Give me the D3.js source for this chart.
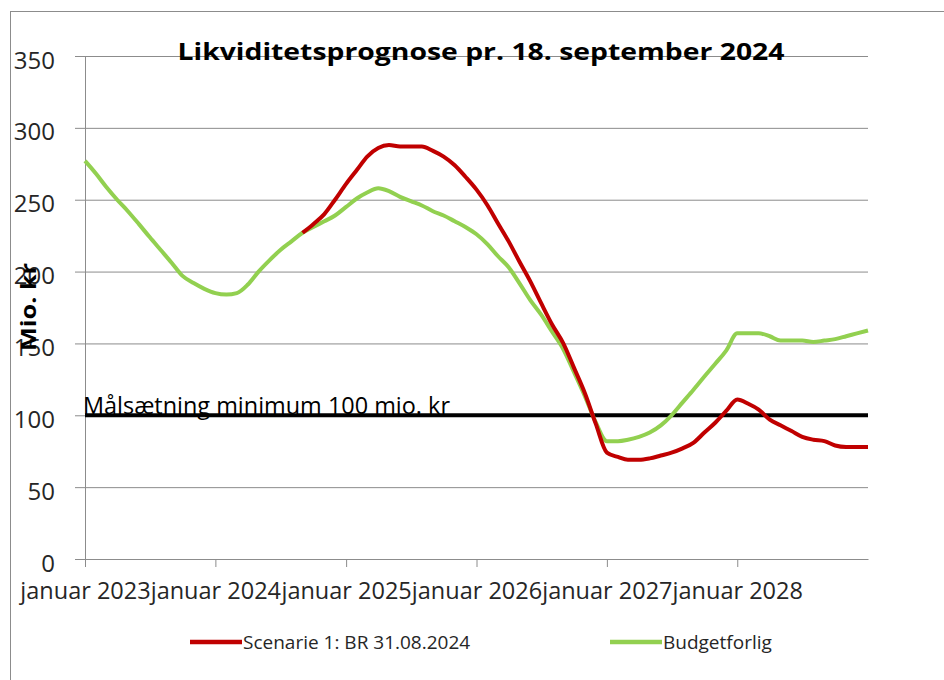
<!DOCTYPE html>
<html>
<head>
<meta charset="utf-8">
<script src="https://cdn.jsdelivr.net/npm/d3@7"></script>
<style>
  body { margin: 0; background: white; }
  text { font-family: "Open Sans", "Noto Sans", sans-serif; }
</style>
</head>
<body>
<div id="container"></div>
<script>
let w = 944;
let h = 680;

// monthly values, Jan 2023 .. Jan 2029 (mio. kr)
let startMonth = "2023-01";
let budgetforlig = [
  277, 268, 259, 250, 242, 233, 224, 215, 206, 197, 192, 188,
  185, 184, 185, 191, 200, 208, 215, 221, 227, 231, 235, 239,
  245, 251, 255, 258, 256, 252, 249, 246, 242, 239, 235, 231,
  226, 219, 211, 203, 192, 180, 170, 158, 146, 130, 113, 95,
  82, 82, 83, 85, 88, 93, 100, 109, 118, 127, 136, 145,
  157, 157, 157, 155, 152, 152, 152, 151, 152, 153, 155, 157, 159
];
let scenarie1 = [
  null, null, null, null, null, null, null, null, null, null, null, null,
  null, null, null, null, null, null, null, null, 227, 233, 240, 250,
  261, 271, 280, 286, 288, 287, 287, 287, 284, 280, 274, 266,
  257, 246, 234, 221, 207, 193, 178, 163, 150, 133, 115, 94,
  74, 71, 69, 69, 70, 72, 74, 77, 81, 88, 95, 103,
  111, 108, 104, 97, 93, 89, 85, 83, 82, 79, 78, 78, 78
];
let yTicks = [0, 50, 100, 150, 200, 250, 300, 350];
let target = 100;
let seriesNames = ["Scenarie 1: BR 31.08.2024", "Budgetforlig"];
let seriesColors = ["#c00000", "#92d050"];

let parseMonth = d3.timeParse("%Y-%m");
let months = budgetforlig.map((d, i) => d3.timeMonth.offset(parseMonth(startMonth), i));

let plotLeft = 85, plotRight = 868, plotTop = 56, plotBottom = 559;

let viz = d3.select("#container").append("svg")
    .attr("width", w)
    .attr("height", h)
    .style("background-color", "white");

// outer frame
viz.append("rect")
    .attr("x", 10.5).attr("y", 11.5)
    .attr("width", 1000).attr("height", 1000)
    .attr("fill", "none").attr("stroke", "#8c8c8c");

let xScale = d3.scaleTime()
    .domain([parseMonth(startMonth), d3.timeMonth.offset(parseMonth(startMonth), 72)])
    .range([plotLeft, plotRight]);
let yScale = d3.scaleLinear().domain([0, 350]).range([plotBottom, plotTop]);

// grid
let grid = viz.append("g")
    .attr("transform", "translate(" + plotLeft + ",0)")
    .call(d3.axisLeft(yScale).tickValues(yTicks).tickSize(-(plotRight - plotLeft)).tickFormat(""));
grid.selectAll("line").attr("stroke", "#8c8c8c");
grid.select(".domain").remove();

// y axis
let yAxisGroup = viz.append("g")
    .attr("transform", "translate(" + plotLeft + ",0)")
    .call(d3.axisLeft(yScale).tickValues(yTicks).tickSize(10).tickPadding(20));
yAxisGroup.selectAll("line").attr("stroke", "#8c8c8c");
yAxisGroup.select(".domain").attr("stroke", "#8c8c8c");
yAxisGroup.selectAll("text")
    .attr("font-size", 24)
    .attr("dy", "0.5em")
    .attr("fill", "#262626")
    .style("font-family", "'Open Sans', sans-serif");

// x axis
let xAxisGroup = viz.append("g")
    .attr("transform", "translate(0," + plotBottom + ")")
    .call(d3.axisBottom(xScale)
      .ticks(d3.timeYear.every(1))
      .tickFormat(d3.timeFormat("januar %Y"))
      .tickSizeInner(8).tickSizeOuter(0)
      .tickPadding(15));
// last tick (2029) is the end of the axis, no tick there
xAxisGroup.selectAll(".tick").filter(d => d.getFullYear() > 2028).remove();
xAxisGroup.selectAll("line").attr("stroke", "#8c8c8c");
xAxisGroup.select(".domain").attr("stroke", "#8c8c8c");
xAxisGroup.selectAll("text")
    .attr("font-size", 23.5)
    .attr("fill", "#262626")
    .style("font-family", "'Open Sans', sans-serif");

// target line
viz.append("text")
    .attr("x", plotLeft - 2)
    .attr("y", yScale(target) - 1)
    .attr("font-size", 23)
    .attr("fill", "#000")
    .attr("textLength", 367)
    .attr("lengthAdjust", "spacingAndGlyphs")
    .text("Målsætning minimum 100 mio. kr");
viz.append("line")
    .attr("x1", plotLeft).attr("x2", plotRight)
    .attr("y1", yScale(target)).attr("y2", yScale(target))
    .attr("stroke", "#000").attr("stroke-width", 4);

// series
let line = d3.line()
    .defined(d => d[1] != null)
    .x(d => xScale(d[0]))
    .y(d => yScale(d[1]))
    .curve(d3.curveMonotoneX);

viz.append("path")
    .datum(months.map((m, i) => [m, budgetforlig[i]]))
    .attr("d", line)
    .attr("fill", "none")
    .attr("stroke", seriesColors[1])
    .attr("stroke-width", 4);

viz.append("path")
    .datum(months.map((m, i) => [m, scenarie1[i]]))
    .attr("d", line)
    .attr("fill", "none")
    .attr("stroke", seriesColors[0])
    .attr("stroke-width", 4);

// title
viz.append("text")
    .attr("x", 481)
    .attr("y", 60)
    .attr("text-anchor", "middle")
    .attr("font-size", 23)
    .attr("font-weight", "bold")
    .attr("textLength", 607)
    .attr("lengthAdjust", "spacingAndGlyphs")
    .text("Likviditetsprognose pr. 18. september 2024");

// y axis title
viz.append("text")
    .attr("transform", "translate(36,307) rotate(-90)")
    .attr("text-anchor", "middle")
    .attr("font-size", 21)
    .attr("font-weight", "bold")
    .attr("textLength", 88)
    .attr("lengthAdjust", "spacingAndGlyphs")
    .text("Mio. kr");

// legend
let legendX = [190, 610];
let legend = viz.selectAll(".legend").data(seriesNames).enter()
  .append("g")
    .attr("class", "legend")
    .attr("transform", (d, i) => "translate(" + legendX[i] + ",642)");
legend.append("line")
    .attr("x1", 0).attr("x2", 52)
    .attr("stroke", (d, i) => seriesColors[i])
    .attr("stroke-width", 4.5);
legend.append("text")
    .attr("x", 53)
    .attr("dy", "0.35em")
    .attr("font-size", 19)
    .attr("fill", "#262626")
    .text(d => d);
</script>
</body>
</html>
